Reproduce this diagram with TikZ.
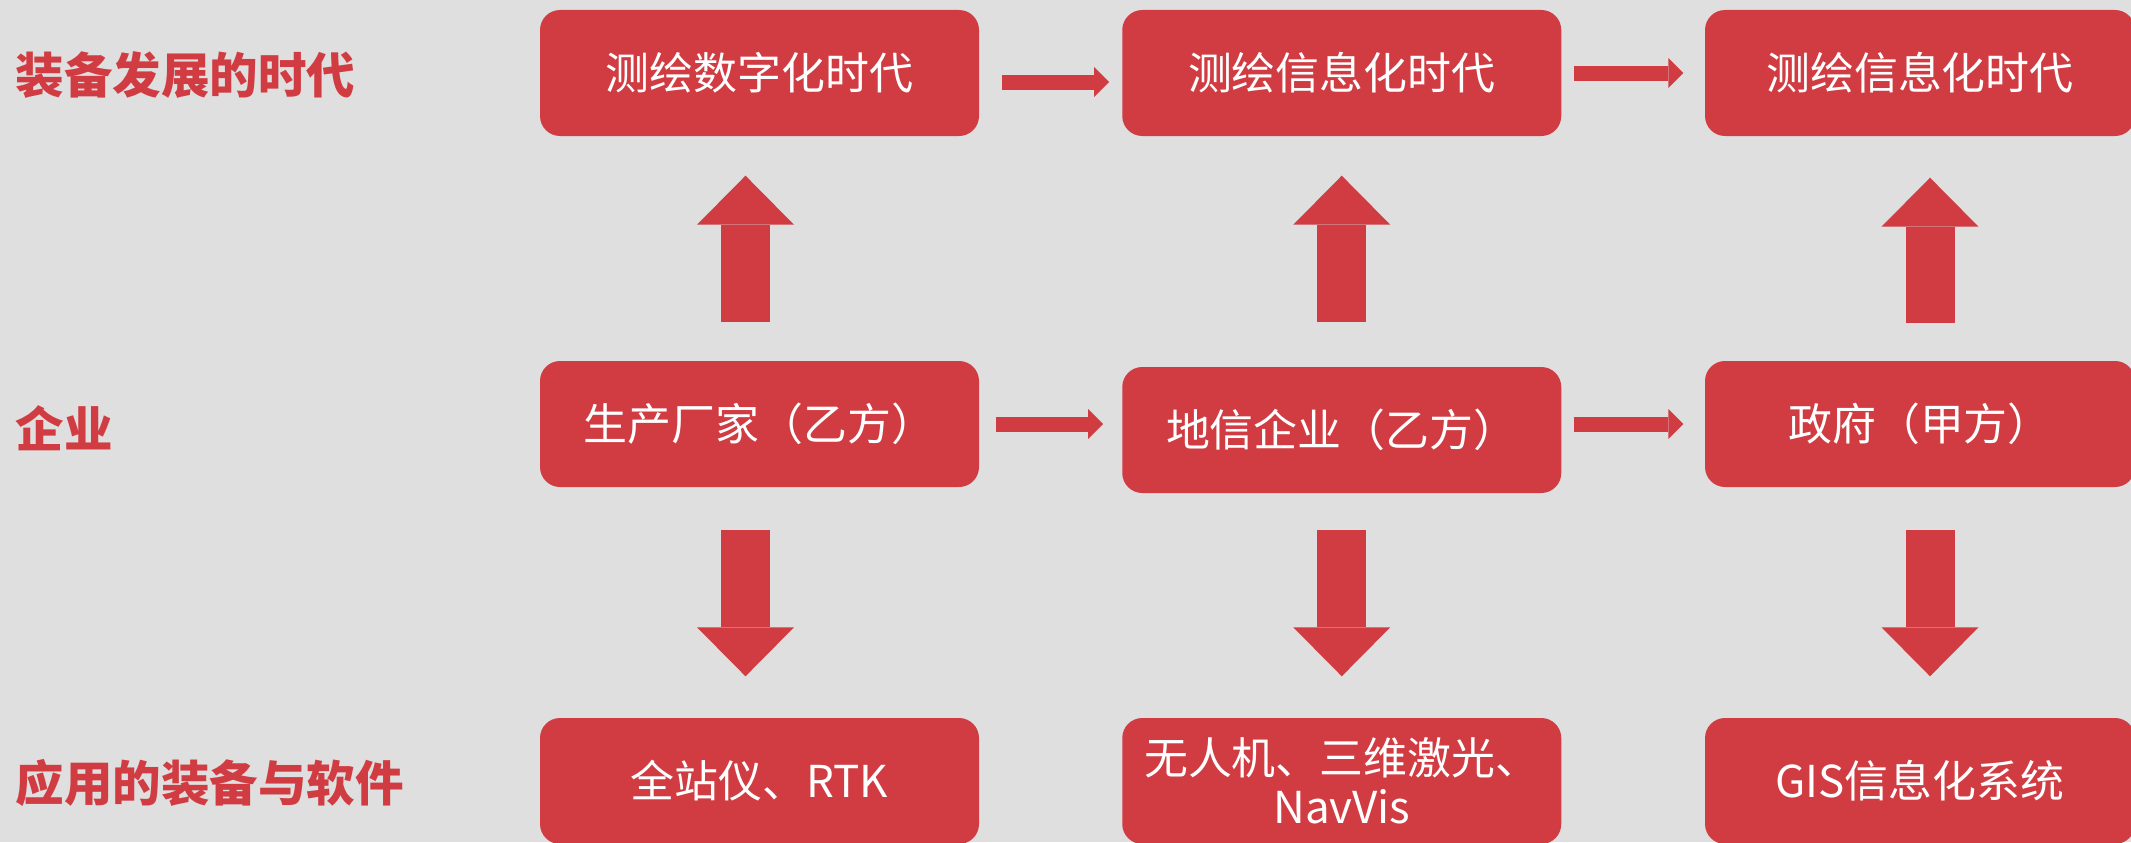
\documentclass[tikz,border=0pt]{standalone}
\usepackage{fontspec}
\setmainfont{Noto Sans CJK SC}
\usepackage{tikz}
\usetikzlibrary{arrows.meta,calc}
\definecolor{boxred}{HTML}{D03C42}
\definecolor{bggray}{HTML}{DFDFDF}

\begin{document}
\begin{tikzpicture}[
    stage/.style={fill=boxred, rounded corners=0.2cm, minimum width=4.39cm, minimum height=1.26cm,
      inner sep=0pt, text=white, align=center, font=\fontsize{12.5}{14}\selectfont},
    rowlabel/.style={anchor=west, inner sep=0pt, text=boxred, font=\fontsize{13.8}{16}\selectfont\bfseries},
    thinarrow/.style={boxred, line width=0.15cm, -{Triangle[length=0.15cm, width=0.30cm, line width=0pt]}},
    bigarrow/.style={boxred, line width=0.49cm, -{Triangle[length=0.49cm, width=0.97cm, line width=0pt]}}
  ]
    \useasboundingbox (0,0) rectangle (21.31,8.42);
    \clip (0,0) rectangle (21.31,8.42);
    \fill[bggray] (0,0) rectangle (21.31,8.42);

    % row labels
    \node[rowlabel] (lab1) at (0.15,7.67) {装备发展的时代};
    \node[rowlabel] (lab2) at (0.15,4.14) {企业};
    \node[rowlabel] (lab3) at (0.15,0.59) {应用的装备与软件};

    % eras
    \node[stage] (era1) at (7.595,7.69) {测绘数字化时代};
    \node[stage] (era2) at (13.4175,7.69) {测绘信息化时代};
    \node[stage, minimum width=4.3cm] (era3) at (19.2,7.69) {测绘信息化时代};

    % companies
    \node[stage] (prod) at (7.595,4.18) {生产厂家（乙方）};
    \node[stage] (ent) at (13.4175,4.12) {地信企业（乙方）};
    \node[stage, minimum width=4.3cm] (gov) at (19.2,4.18) {政府（甲方）};

    % equipment and software
    \node[stage] (eq1) at (7.595,0.61) {全站仪、RTK};
    \node[stage] (eq2) at (13.4175,0.61) {无人机、三维激光、\\NavVis};
    \node[stage, minimum width=4.3cm] (eq3) at (19.2,0.61) {GIS信息化系统};

    \draw[thinarrow, shorten <=0.22cm, shorten >=0.125cm] ([yshift=-0.09cm]era1.east) -- ([yshift=-0.09cm]era2.west);
    \draw[thinarrow, shorten <=0.12cm, shorten >=0.21cm] (era2.east) -- (era3.west);
    \draw[thinarrow, shorten <=0.16cm, shorten >=0.185cm] (prod.east) -- (prod.east -| ent.west);
    \draw[thinarrow, shorten <=0.12cm, shorten >=0.21cm] (gov.west -| ent.east) -- (gov.west);

    \draw[bigarrow, shorten <=0.38cm, shorten >=0.39cm] ([xshift=-0.14cm]prod.north) -- ([xshift=-0.14cm]era1.south);
    \draw[bigarrow, shorten <=0.42cm, shorten >=0.41cm] ([xshift=-0.14cm]prod.south) -- ([xshift=-0.14cm]eq1.north);
    \draw[bigarrow, shorten <=0.44cm, shorten >=0.39cm] (ent.north) -- (era2.south);
    \draw[bigarrow, shorten <=0.365cm, shorten >=0.41cm] (ent.south) -- (eq2.north);
    \draw[bigarrow, shorten <=0.37cm, shorten >=0.41cm] ([xshift=0.1cm]gov.north) -- ([xshift=0.1cm]era3.south);
    \draw[bigarrow, shorten <=0.425cm, shorten >=0.41cm] ([xshift=0.1cm]gov.south) -- ([xshift=0.1cm]eq3.north);
\end{tikzpicture}
\end{document}
